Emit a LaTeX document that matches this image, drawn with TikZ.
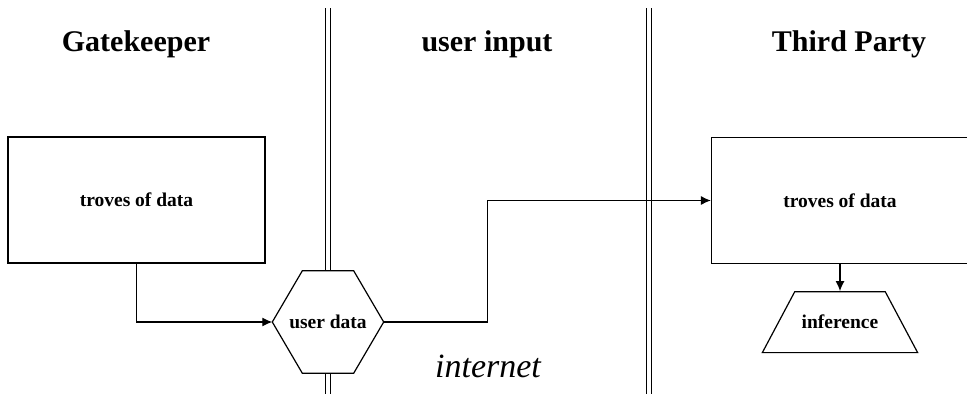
\documentclass[tikz,border=0pt]{standalone}
\usepackage{fontspec}
\setmainfont{Liberation Serif}
\usetikzlibrary{positioning,arrows.meta,shapes.geometric}

\begin{document}
\begin{tikzpicture}[> = {Latex[length=10pt, width=9pt]}, x=1pt, y=-1pt]
    \tikzset{
      head/.style={font=\fontsize{30}{36}\selectfont\bfseries, anchor=base},
      lbl/.style={font=\fontsize{19.5}{23}\selectfont\bfseries},
      store/.style={lbl, draw, line width=1.2pt, minimum width=257pt, minimum height=126pt},
      hexbox/.style={lbl, fill=white, minimum width=111pt, minimum height=102pt, inner sep=0pt},
      trap/.style={lbl, draw, line width=1.2pt, trapezium, trapezium left angle=62,
        trapezium right angle=62, inner xsep=7pt, inner ysep=23.5pt},
      wall/.style={double, double distance=4.5pt, line width=1pt},
      flow/.style={->, line width=1.2pt},
    }
    \useasboundingbox (0,0) rectangle (967,394);
    % trust boundaries
    \coordinate (w1top) at (328,8);
    \coordinate (w1bot) at (328,394);
    \coordinate (w2top) at (649,8);
    \coordinate (w2bot) at (649,394);
    \draw[wall] (w1top) -- (w1bot);
    \draw[wall] (w2top) -- (w2bot);

    \node [head] (gate) at (136,51) {Gatekeeper};
    \node [head] (input) at (487,51) {user input};
    \node [head] (third) at (849,51) {Third Party};

    \node [store] (lstore) at (136.5,200) {troves of data};
    \node [store] (rstore) at (840,200.5) {troves of data};
    \node [hexbox] (udata) at (328,322) {user data};
    \draw[line width=1.2pt] (udata.west) -- ([xshift=30pt]udata.north west)
      -- ([xshift=-30pt]udata.north east) -- (udata.east)
      -- ([xshift=-30pt]udata.south east) -- ([xshift=30pt]udata.south west) -- cycle;
    \node [trap, below=27pt of rstore] (infer) {inference};
    \node [font=\fontsize{34}{40}\selectfont\itshape, anchor=base] (net) at (488,377) {internet};

    \draw[flow] (lstore.south) |- (udata.west);
    \draw[flow] (udata.east) -- ++(104,0) |- (rstore.west);
    \draw[flow] (rstore.south) -- (infer.north);
  \end{tikzpicture}
\end{document}
